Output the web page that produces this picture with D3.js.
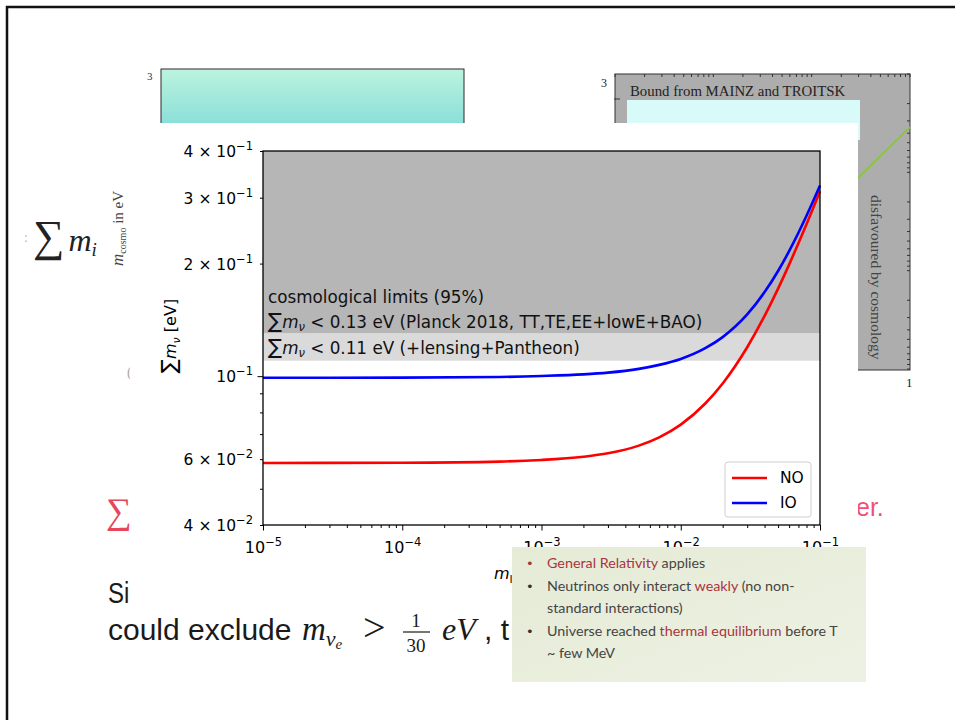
<!DOCTYPE html>
<html><head><meta charset="utf-8">
<script src="https://cdn.jsdelivr.net/npm/d3@7"></script>
<style>body{margin:0;background:#fff}svg{display:block}</style>
</head><body>
<svg id="c" width="955" height="720"></svg>
<script>
// ---------------- data ----------------
const mLightest = [1e-5, 1e-4, 5e-4, 1e-3, 2e-3, 3e-3, 5e-3, 7e-3, 1e-2, 1.5e-2, 2e-2, 3e-2, 4e-2, 5e-2, 6e-2, 7e-2, 8e-2, 9e-2, 1e-1];
const sumNO = [0.0586, 0.0587, 0.0591, 0.0597, 0.0609, 0.0622, 0.0652, 0.0686, 0.0742, 0.0845, 0.0956, 0.1195, 0.1449, 0.1714, 0.1987, 0.2266, 0.2548, 0.2834, 0.3122];
const sumIO = [0.0990, 0.0991, 0.0995, 0.1001, 0.1011, 0.1022, 0.1046, 0.1072, 0.1112, 0.1188, 0.1272, 0.1462, 0.1678, 0.1911, 0.2159, 0.2418, 0.2684, 0.2957, 0.3235];
const seriesNames = ["NO", "IO"];
const limitValues = [0.13, 0.11];
const limitTexts = ["cosmological limits (95%)", " < 0.13 eV (Planck 2018, TT,TE,EE+lowE+BAO)", " < 0.11 eV (+lensing+Pantheon)"];
const xDomain = [1e-5, 1e-1];
const yDomain = [0.04, 0.4];
const xTickExponents = ["−5", "−4", "−3", "−2", "−1"];
const yLabeledTicks = [0.04, 0.06, 0.1, 0.2, 0.3, 0.4];
const yTickMantissas = ["4 × ", "6 × ", "", "2 × ", "3 × ", "4 × "];
const yTickExponents = ["−2", "−2", "−1", "−1", "−1", "−1"];
const bulletLines = [
  [["General Relativity", 1], [" applies", 0]],
  [["Neutrinos only interact ", 0], ["weakly", 1], [" (no non-", 0]],
  [["standard interactions)", 0]],
  [["Universe reached ", 0], ["thermal equilibrium", 1], [" before T", 0]],
  [["~ few MeV", 0]]
];
const bulletFlags = [true, true, false, true, false];

// ---------------- drawing ----------------
const FONT = "DejaVu Sans";
const svg = d3.select("#c");
const defs = svg.append("defs");
const grad = defs.append("linearGradient").attr("id", "cy").attr("x1", 0).attr("y1", 0).attr("x2", 0).attr("y2", 1);
grad.append("stop").attr("offset", "0%").attr("stop-color", "#bcf3de");
grad.append("stop").attr("offset", "100%").attr("stop-color", "#7ddad8");
const ggrad = defs.append("linearGradient").attr("id", "gb").attr("x1", 0).attr("y1", 0).attr("x2", 1).attr("y2", 1);
ggrad.append("stop").attr("offset", "0%").attr("stop-color", "#e5ebd5");
ggrad.append("stop").attr("offset", "100%").attr("stop-color", "#edf1e4");

svg.append("rect").attr("width", 955).attr("height", 720).attr("fill", "#fff");
svg.append("path").attr("d", "M7,720V7H955").attr("fill", "none").attr("stroke", "#111").attr("stroke-width", 2.5);

// ---- slide behind ----
const slide = svg.append("g");
slide.append("rect").attr("x", 161).attr("y", 69).attr("width", 303).attr("height", 70).attr("fill", "url(#cy)").attr("stroke", "#2a2a2a").attr("stroke-width", 1);
slide.append("text").attr("x", 147).attr("y", 80).attr("font-family", "Liberation Serif").attr("font-size", 11).attr("fill", "#333").text("3");
slide.append("text").attr("x", 24).attr("y", 242).attr("font-family", "Liberation Serif").attr("font-size", 14).attr("fill", "#bbb").text(":");
const sm = slide.append("text").attr("x", 33).attr("y", 251).attr("font-family", "Liberation Serif").attr("fill", "#222");
sm.append("tspan").attr("font-size", 44).text("∑");
sm.append("tspan").attr("dx", 4).attr("font-size", 32).attr("font-style", "italic").text("m");
sm.append("tspan").attr("font-size", 19).attr("font-style", "italic").attr("dy", 5).text("i");
const mc = slide.append("text").attr("transform", "translate(123,266) rotate(-90)").attr("font-family", "Liberation Serif").attr("fill", "#444");
mc.append("tspan").attr("font-size", 17).attr("font-style", "italic").text("m");
mc.append("tspan").attr("font-size", 10).attr("dy", 3).text("cosmo");
mc.append("tspan").attr("font-size", 15).attr("dy", -3).text("  in eV");
slide.append("text").attr("x", 127).attr("y", 377).attr("font-family", "Liberation Serif").attr("font-size", 14).attr("fill", "#aaa").text("(");
slide.append("text").attr("x", 106).attr("y", 523).attr("font-family", FONT).attr("font-weight", 300).attr("font-size", 36).attr("fill", "#e8455a").text("∑");
slide.append("text").attr("transform", "translate(108,603) scale(0.8,1)").attr("font-family", "Liberation Sans").attr("font-size", 30).attr("fill", "#1a1a1a").text("Si");
slide.append("text").attr("x", 108).attr("y", 640).attr("font-family", "Liberation Sans").attr("font-size", 30).attr("fill", "#1a1a1a").text("could exclude");
const mth = slide.append("text").attr("x", 302).attr("y", 640).attr("font-family", "Liberation Serif").attr("fill", "#1a1a1a");
mth.append("tspan").attr("font-size", 33).attr("font-style", "italic").text("m");
mth.append("tspan").attr("font-size", 22).attr("font-style", "italic").attr("dy", 6).text("ν");
mth.append("tspan").attr("font-size", 15).attr("font-style", "italic").attr("dy", 3).text("e");
slide.append("text").attr("x", 363).attr("y", 641).attr("font-family", "Liberation Serif").attr("font-size", 40).attr("fill", "#1a1a1a").text(">");
slide.append("text").attr("x", 416).attr("y", 627).attr("text-anchor", "middle").attr("font-family", "Liberation Serif").attr("font-size", 19).attr("fill", "#1a1a1a").text("1");
slide.append("line").attr("x1", 403).attr("x2", 430).attr("y1", 632).attr("y2", 632).attr("stroke", "#1a1a1a").attr("stroke-width", 1.2);
slide.append("text").attr("x", 416).attr("y", 652).attr("text-anchor", "middle").attr("font-family", "Liberation Serif").attr("font-size", 19).attr("fill", "#1a1a1a").text("30");
slide.append("text").attr("x", 442).attr("y", 640).attr("font-family", "Liberation Serif").attr("font-style", "italic").attr("font-size", 32).attr("fill", "#1a1a1a").text("eV");
slide.append("text").attr("x", 484).attr("y", 640).attr("font-family", "Liberation Sans").attr("font-size", 30).attr("fill", "#1a1a1a").text(", t");
slide.append("text").attr("x", 856).attr("y", 516).attr("font-family", "Liberation Sans").attr("font-size", 25).attr("fill", "#ef4f78").text("er.");
// top-right panel
slide.append("rect").attr("x", 615).attr("y", 74).attr("width", 295).attr("height", 296).attr("fill", "#adadad").attr("stroke", "#333").attr("stroke-width", 1);
const bx = d3.scaleLog().domain([1e-3, 1]).range([615, 910]);
slide.append("g").selectAll("line").data(bx.ticks()).join("line")
  .attr("x1", d => bx(d)).attr("x2", d => bx(d)).attr("y1", 74).attr("y2", 77).attr("stroke", "#333");
slide.append("g").selectAll("line").data(bx.ticks()).join("line")
  .attr("y1", d => 74 + (bx(d) - 615)).attr("y2", d => 74 + (bx(d) - 615)).attr("x1", 907).attr("x2", 910).attr("stroke", "#333");
slide.append("rect").attr("x", 627).attr("y", 100).attr("width", 233).attr("height", 40).attr("fill", "#d8fbfa");
slide.append("line").attr("x1", 614).attr("x2", 620).attr("y1", 99).attr("y2", 99).attr("stroke", "#333");
slide.append("text").attr("x", 601).attr("y", 87).attr("font-family", "Liberation Serif").attr("font-size", 12).attr("fill", "#222").text("3");
slide.append("text").attr("x", 630).attr("y", 96).attr("font-family", "Liberation Serif").attr("font-size", 14.8).attr("fill", "#222").text("Bound from MAINZ and TROITSK");
slide.append("line").attr("x1", 858).attr("y1", 178).attr("x2", 910).attr("y2", 127).attr("stroke", "#8cc63f").attr("stroke-width", 2);
slide.append("text").attr("transform", "translate(871,195) rotate(90)").attr("font-family", "Liberation Serif").attr("font-size", 15.5).attr("fill", "#444").text("disfavoured by cosmology");
slide.append("text").attr("x", 906).attr("y", 387).attr("font-family", "Liberation Serif").attr("font-size", 13).attr("fill", "#222").text("1");

// ---- main figure ----
svg.append("rect").attr("x", 130).attr("y", 123).attr("width", 728).attr("height", 487).attr("fill", "#fff");
const x = d3.scaleLog().domain(xDomain).range([263, 820]);
const y = d3.scaleLog().domain(yDomain).range([525, 151]);
const chart = svg.append("g").attr("font-family", FONT);
const X0 = x.range()[0], X1 = x.range()[1];
chart.append("rect").attr("x", X0).attr("width", X1 - X0).attr("y", y(yDomain[1])).attr("height", y(limitValues[0]) - y(yDomain[1])).attr("fill", "#b6b6b6");
chart.append("rect").attr("x", X0).attr("width", X1 - X0).attr("y", y(limitValues[0])).attr("height", y(limitValues[1]) - y(limitValues[0])).attr("fill", "#dadada");
chart.append("text").attr("x", X0 + 5).attr("y", 303).attr("font-family", FONT).attr("font-size", 16.8).attr("fill", "#111").text(limitTexts[0]);
[limitTexts[1], limitTexts[2]].forEach((t, i) => {
  const tx = chart.append("text").attr("x", X0 + 5).attr("y", 328 + i * 26).attr("font-family", FONT).attr("font-size", 16.8).attr("fill", "#111");
  tx.append("tspan").attr("font-size", 21).text("∑");
  tx.append("tspan").attr("font-style", "italic").text("m");
  tx.append("tspan").attr("font-size", 11.5).attr("font-style", "italic").attr("dy", 3).text("ν");
  tx.append("tspan").attr("dy", -3).text(t);
});
const line = d3.line().x((d, i) => x(mLightest[i])).y(d => y(d)).curve(d3.curveMonotoneX);
const colors = ["#ff0000", "#0000ff"];
[sumNO, sumIO].forEach((s, k) => {
  chart.append("path").attr("d", line(s)).attr("fill", "none").attr("stroke", colors[k]).attr("stroke-width", 2.6);
});
chart.append("rect").attr("x", X0).attr("y", y.range()[1]).attr("width", X1 - X0).attr("height", y.range()[0] - y.range()[1]).attr("fill", "none").attr("stroke", "#000").attr("stroke-width", 1.3);
const isMajor = d => Math.abs(Math.log10(d) - Math.round(Math.log10(d))) < 1e-9;
// x axis
const gx = chart.append("g").attr("transform", `translate(0,${y.range()[0]})`)
  .call(d3.axisBottom(x).tickValues(x.ticks()).tickSize(3).tickFormat(""));
gx.attr("font-family", FONT).attr("font-size", 16);
gx.select(".domain").remove();
gx.selectAll(".tick line").attr("stroke", "#000");
gx.selectAll(".tick").filter(isMajor).select("line").attr("y2", 5.5);
gx.selectAll(".tick").filter(isMajor).each(function (d) {
  const i = Math.round(Math.log10(d)) + 5;
  const t = d3.select(this).append("text").attr("y", 28).attr("text-anchor", "middle").attr("fill", "#000").attr("font-family", FONT).attr("font-size", 16);
  t.append("tspan").text("10");
  t.append("tspan").attr("font-size", 11.5).attr("dy", -7).text(xTickExponents[i]);
});
// y axis
const gy = chart.append("g").attr("transform", `translate(${X0},0)`)
  .call(d3.axisLeft(y).tickValues(y.ticks()).tickSize(3).tickFormat(""));
gy.attr("font-family", FONT).attr("font-size", 16);
gy.select(".domain").remove();
gy.selectAll(".tick line").attr("stroke", "#000");
gy.selectAll(".tick").filter(isMajor).select("line").attr("x2", -5.5);
gy.selectAll(".tick").each(function (d) {
  const i = yLabeledTicks.findIndex(v => Math.abs(v - d) < 1e-9);
  if (i < 0) return;
  const t = d3.select(this).append("text").attr("x", -10).attr("dy", "0.35em").attr("text-anchor", "end").attr("fill", "#000").attr("font-family", FONT).attr("font-size", 15.5);
  t.append("tspan").text(yTickMantissas[i] + "10");
  t.append("tspan").attr("font-size", 11.5).attr("dy", -7).text(yTickExponents[i]);
});
// axis labels
const yl = chart.append("text").attr("transform", `translate(176,${(y.range()[0] + y.range()[1]) / 2 - 2}) rotate(-90)`).attr("text-anchor", "middle").attr("font-family", FONT).attr("font-size", 16).attr("fill", "#000");
yl.append("tspan").attr("font-size", 21).text("∑");
yl.append("tspan").attr("font-style", "italic").text("m");
yl.append("tspan").attr("font-size", 11).attr("font-style", "italic").attr("dy", 4).text("ν");
yl.append("tspan").attr("dy", -4).text(" [eV]");
const xl = chart.append("text").attr("x", (X0 + X1) / 2).attr("y", 579).attr("text-anchor", "middle").attr("font-family", FONT).attr("font-size", 16).attr("fill", "#000");
xl.append("tspan").attr("font-style", "italic").text("m");
xl.append("tspan").attr("font-size", 11).attr("dy", 4).text("lightest");
xl.append("tspan").attr("dy", -4).text(" [eV]");
// legend
const lg = chart.append("g").attr("transform", "translate(725,462)");
lg.append("rect").attr("width", 86).attr("height", 55).attr("rx", 3).attr("fill", "#fff").attr("fill-opacity", 0.85).attr("stroke", "#cfcfcf");
seriesNames.forEach((n, k) => {
  lg.append("line").attr("x1", 7).attr("x2", 42).attr("y1", 16 + k * 25).attr("y2", 16 + k * 25).attr("stroke", colors[k]).attr("stroke-width", 2.6);
  lg.append("text").attr("x", 55).attr("y", 21 + k * 25).attr("font-family", FONT).attr("font-size", 15.5).attr("fill", "#000").text(n);
});

// ---- green notes box on top ----
const nb = svg.append("g");
nb.append("rect").attr("x", 512).attr("y", 547).attr("width", 354).attr("height", 135).attr("fill", "url(#gb)");
bulletLines.forEach((segs, i) => {
  const yy = 568 + i * 22.5;
  if (bulletFlags[i]) nb.append("text").attr("x", 526).attr("y", yy).attr("font-family", FONT).attr("font-size", 13).attr("fill", i === 0 ? "#9a3a44" : "#333").text("•");
  const t = nb.append("text").attr("x", 547).attr("y", yy).attr("font-family", "Lato").attr("font-size", 14.3).attr("fill", "#444");
  segs.forEach(([s, red]) => t.append("tspan").attr("fill", red ? "#a8343f" : "#444").text(s));
});
</script>
</body></html>
